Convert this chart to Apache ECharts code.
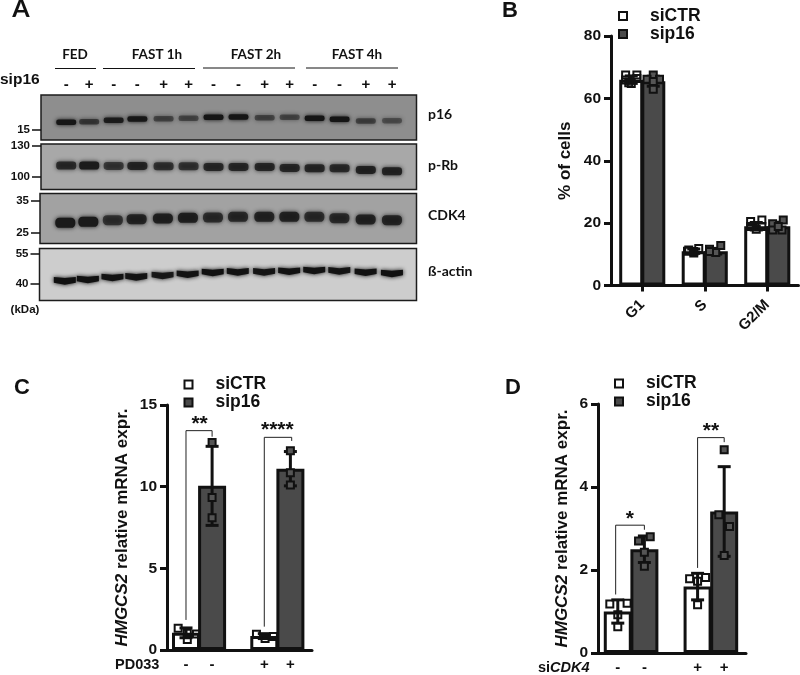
<!DOCTYPE html>
<html>
<head>
<meta charset="utf-8">
<style>html,body{margin:0;padding:0;background:#fff}#c{width:800px;height:675px}</style>
<script src="https://cdn.jsdelivr.net/npm/echarts@6/dist/echarts.min.js"></script>
</head>
<body>
<div id="c"></div>
<script>
// ---- Panel B: cell cycle
const phases = ['G1', 'S', 'G2/M'];
const bCtrMeans = [66, 11, 19];
const bSipMeans = [65.5, 11, 19];
const bCtrSd = [1.2, 0.7, 1.2];
const bSipSd = [1.6, 0.9, 1.3];
const bCtrPoints = [[67.5, 67.5, 65.9, 66.4, 65.0, 64.8], [11.4, 10.9, 11.9, 10.4, 11.0], [20.5, 21.0, 18.9, 18.9, 18.0]];
const bCtrSpread = [[-0.09, 0.09, -0.09, 0.09, -0.04, 0.0], [-0.08, 0.0, 0.08, 0.0, -0.1], [-0.09, 0.09, -0.09, 0.09, 0.0]];
const bSipPoints = [[67.5, 66.1, 66.1, 62.9, 65.4], [11.6, 12.8, 10.6, 10.9], [19.8, 21.0, 17.8, 17.8, 18.9]];
const bSipSpread = [[0.0, -0.1, 0.1, 0.0, 0.0], [-0.1, 0.08, 0.0, -0.1], [-0.09, 0.08, -0.09, 0.06, 0.0]];

// ---- Panel C: HMGCS2 with PD033
const cGroups = [0, 3];
const cSipGroups = [1, 4];
const cTreatLabels = ['-', '-', '+', '+'];
const cTicks = [0, 1, 3, 4];
const cCtrMeans = [1.05, 0.85];
const cSipMeans = [10.05, 11.1];
const cCtrSd = [0.3, 0.15];
const cSipSd = [2.42, 1.05];
const cCtrPoints = [[1.33, 1.02, 0.98, 0.65], [0.96, 0.7, 0.82]];
const cCtrSpread = [[-0.3, 0.05, 0.4, 0.05], [-0.3, 0.03, 0.35]];
const cSipPoints = [[12.7, 9.33, 8.1], [12.2, 10.85, 10.1]];
const cSipSpread = [[0, 0, 0], [0, 0, 0]];
// x1, rise-from, top, x2, drop-to, star x, star y, stars
const cBrackets = [[0, 1.84, 13.43, 1, 13.06, 0.52, 13.82, '**'], [3, 1.43, 13.02, 4.05, 12.8, 3.5, 13.48, '****']];

// ---- Panel D: HMGCS2 with siCDK4
const dTreatLabels = ['-', '-', '+', '+'];
const dCtrMeans = [1.0, 1.6];
const dSipMeans = [2.5, 3.41];
const dCtrSd = [0.28, 0.32];
const dSipSd = [0.32, 1.08];
const dCtrPoints = [[1.18, 1.2, 0.92, 0.63], [1.79, 1.82, 1.73, 1.16]];
const dCtrSpread = [[-0.3, 0.35, 0, 0], [-0.3, 0.3, 0, 0]];
const dSipPoints = [[2.7, 2.8, 2.43, 2.09], [4.9, 3.33, 3.05, 2.35]];
const dSipSpread = [[-0.22, 0.22, 0, 0], [0, -0.2, 0.2, 0]];
const dBrackets = [[-0.08, 1.41, 3.08, 1, 2.97, 0.45, 3.22, '*'], [3, 2.05, 5.19, 4, 5.08, 3.5, 5.34, '**']];

// ---- Panel A: western blot lanes
const lanes = [0, 0.92, 1.9, 2.85, 3.9, 4.9, 5.9, 6.9, 7.95, 8.95, 9.95, 10.95, 12, 13.05];
const laneSigns = ['-', '+', '-', '-', '+', '+', '-', '-', '+', '+', '-', '-', '+', '+'];
const p16Migration = [60.7, 59.3, 56.3, 53.3, 52.6, 51.9, 49.6, 48.9, 50.4, 49.6, 51.9, 54.1, 57.8, 57.0];
const p16Signal = [0.98, 0.6, 0.88, 0.95, 0.5, 0.48, 1, 1, 0.5, 0.48, 1, 1, 0.52, 0.42];
const pRbMigration = [47.4, 47.4, 48.2, 48.2, 48.9, 48.9, 50.4, 50.4, 50.4, 52.6, 53.3, 53.3, 56.9, 59.9];
const pRbSignal = [0.8, 0.98, 0.68, 0.88, 0.75, 0.72, 0.85, 0.85, 0.85, 0.85, 0.85, 0.82, 0.9, 0.9];
const cdk4Migration = [58.7, 56.7, 53.3, 51.3, 50, 48.7, 48, 46.7, 46.7, 46.7, 46.7, 49.3, 52, 53.3];
const cdk4Signal = [1, 1, 0.7, 0.85, 0.9, 0.9, 0.75, 0.8, 0.85, 0.88, 0.75, 0.78, 0.88, 0.85];
const actinMigration = [61.8, 59.2, 55.4, 54.1, 51.6, 49, 45.9, 44.6, 44.6, 43.3, 42, 42.7, 45.2, 47.8];
const actinSignal = [1, 1, 0.98, 0.95, 0.9, 0.98, 1, 0.98, 0.95, 0.98, 0.98, 0.95, 0.98, 1];
const p16Ticks = [77]; const p16Mw = ['15'];
const pRbTicks = [4.4, 73]; const pRbMw = ['130', '100'];
const cdk4Ticks = [15.3, 78]; const cdk4Mw = ['35', '25'];
const actinTicks = [9.6, 68.2]; const actinMw = ['55', '40'];
const timeGroups = ['FED', 'FAST 1h', 'FAST 2h', 'FAST 4h'];

const INK = '#111';
const DARK = '#4a4a4a';
const ARIAL = '"Liberation Sans", Arial, sans-serif';
const LATO = 'Lato, "Open Sans", sans-serif';

const chart = echarts.init(document.getElementById('c'), null, { renderer: 'canvas' });

function errorItem(params, api) {
  const x = api.value(0);
  const lo = api.coord([x, api.value(1)]);
  const hi = api.coord([x, api.value(2)]);
  const s = { stroke: INK, lineWidth: 3, fill: null };
  const cap = 6.5;
  return { type: 'group', children: [
    { type: 'line', shape: { x1: lo[0], y1: lo[1], x2: hi[0], y2: hi[1] }, style: s },
    { type: 'line', shape: { x1: lo[0] - cap, y1: lo[1], x2: lo[0] + cap, y2: lo[1] }, style: s },
    { type: 'line', shape: { x1: hi[0] - cap, y1: hi[1], x2: hi[0] + cap, y2: hi[1] }, style: s }
  ] };
}
function errors(xs, means, sds, xi, yi) {
  return { type: 'custom', name: 'sd', xAxisIndex: xi, yAxisIndex: yi, clip: false, z: 3, silent: true,
    encode: { x: 0, y: [1, 2] }, renderItem: errorItem,
    data: xs.map((x, i) => [x, means[i] - sds[i], means[i] + sds[i]]) };
}
function points(name, xs, vals, spread, xi, yi) {
  const data = [];
  vals.forEach((g, i) => g.forEach((v, j) => data.push([xs[i] + spread[i][j], v])));
  return { type: 'scatter', name, xAxisIndex: xi, yAxisIndex: yi, data, symbol: 'rect', symbolSize: 7, clip: false, z: 4, silent: true,
    itemStyle: { color: name === 'siCTR' ? 'rgba(255,255,255,0)' : '#555', borderColor: INK, borderWidth: 2, opacity: 1 } };
}
function bars(name, xs, means, xi, yi) {
  return { type: 'bar', name, xAxisIndex: xi, yAxisIndex: yi, barWidth: 28, barGap: '-100%', z: 2, silent: true,
    data: xs.map((x, i) => [x, means[i]]),
    itemStyle: { color: name === 'siCTR' ? '#fff' : DARK, borderColor: INK, borderWidth: 3 } };
}
function brackets(list, xi, yi) {
  return { type: 'custom', name: 'sig', xAxisIndex: xi, yAxisIndex: yi, clip: false, z: 5, silent: true,
    encode: { x: 0, y: 2 },
    renderItem(params, api) {
      const b = list[params.dataIndex];
      const a = api.coord([b[0], b[1]]), t1 = api.coord([b[0], b[2]]), t2 = api.coord([b[3], b[2]]), e = api.coord([b[3], b[4]]), st = api.coord([b[5], b[6]]);
      return { type: 'group', children: [
        { type: 'polyline', shape: { points: [a, t1, t2, e] }, style: { stroke: '#222', lineWidth: 1, fill: null } },
        { type: 'text', style: { x: st[0], y: st[1], text: b[7], fill: INK, font: 'bold 21px ' + ARIAL, align: 'center', verticalAlign: 'middle' } }
      ] };
    },
    data: list.map(b => [b[0], b[1], b[2]]) };
}
function yAxisBase(gi, max, interval, name, nameGap) {
  return { type: 'value', gridIndex: gi, min: 0, max, interval,
    name, nameLocation: 'middle', nameGap, nameMoveOverlap: false,
    nameTextStyle: { fontFamily: ARIAL, fontSize: 17, fontWeight: 'bold', color: INK,
      rich: { i: { fontFamily: ARIAL, fontSize: 17, fontWeight: 'bold', fontStyle: 'italic', color: INK }, n: { fontFamily: ARIAL, fontSize: 17, fontWeight: 'bold', color: INK } } },
    axisLine: { show: true, onZero: false, lineStyle: { color: INK, width: 3 } },
    axisTick: { show: true, length: 7, lineStyle: { color: INK, width: 3 } },
    axisLabel: { fontFamily: ARIAL, fontSize: 15.5, fontWeight: 'bold', color: INK, margin: 10 },
    splitLine: { show: false } };
}
function treatedX(gi, min, max, labels) {
  return { type: 'value', gridIndex: gi, min, max,
    axisLine: { show: true, onZero: false, lineStyle: { color: INK, width: 3 } },
    axisTick: { show: false }, splitLine: { show: false },
    axisLabel: { customValues: cTicks, fontFamily: ARIAL, fontSize: 15, fontWeight: 'bold', color: INK, margin: 7,
      formatter: v => labels[cTicks.indexOf(v)] } };
}
function legend(left, top, gap) {
  return { data: ['siCTR', 'sip16'], orient: 'vertical', left, top, itemWidth: 8, itemHeight: 8, itemGap: gap, icon: 'rect', selectedMode: false,
    textStyle: { fontFamily: ARIAL, fontSize: 17.5, fontWeight: 'bold', color: INK, padding: [0, 0, 0, 18] } };
}

// ---- blot panels
const blotGrids = [
  { left: 41, top: 95, width: 375.5, height: 45, backgroundColor: '#8e8e8e' },
  { left: 41, top: 144, width: 375.5, height: 45.5, backgroundColor: '#a8a8a8' },
  { left: 40, top: 193.5, width: 376.5, height: 50, backgroundColor: '#a2a2a2' },
  { left: 39.5, top: 248.5, width: 377, height: 52, backgroundColor: '#cdcdcd' }
].map(g => Object.assign(g, { show: true, borderColor: '#1c1c1c', borderWidth: 1.5 }));

function blotX(gi, withSigns) {
  return { type: 'value', gridIndex: gi, position: 'top', min: -1.01, max: 14.03,
    axisLine: { show: false }, axisTick: { show: false }, splitLine: { show: false },
    axisLabel: withSigns ? { show: true, customValues: lanes, fontFamily: ARIAL, fontSize: 15, fontWeight: 'bold', color: INK, margin: 3,
      formatter: v => laneSigns[lanes.indexOf(v)] } : { show: false } };
}
function blotY(gi, ticks, mw) {
  return { type: 'value', gridIndex: gi, inverse: true, min: 0, max: 100,
    axisLine: { show: false, onZero: false }, splitLine: { show: false },
    axisTick: { show: true, length: 9, customValues: ticks, lineStyle: { color: '#111', width: 1.5 } },
    axisLabel: { customValues: ticks, fontFamily: ARIAL, fontSize: 11.5, fontWeight: 'bold', color: INK, margin: 11,
      formatter: v => mw[ticks.indexOf(v)] } };
}
function blotBands(gi, migration, signal, w, h, color, curved) {
  return { type: 'custom', name: 'blot' + gi, xAxisIndex: 4 + gi, yAxisIndex: 3 + gi, silent: true, z: 2,
    encode: { x: 0, y: 1 },
    renderItem(params, api) {
      const c = api.coord([api.value(0), api.value(1)]);
      const a = api.value(2);
      const style = { fill: color, opacity: a, shadowBlur: 4, shadowColor: color };
      if (curved) {
        const pts = [[-w / 2, -h * 0.45], [0, -h * 0.32], [w / 2, -h * 0.45], [w / 2, h * 0.25], [0, h * 0.5], [-w / 2, h * 0.25]]
          .map(p => [c[0] + p[0], c[1] + p[1]]);
        return { type: 'polygon', shape: { points: pts }, style };
      }
      return { type: 'rect', shape: { x: c[0] - w / 2, y: c[1] - h / 2, width: w, height: h, r: h / 2.4 }, style };
    },
    data: lanes.map((x, i) => [x, migration[i], signal[i]]) };
}

const gText = (text, x, y, font, align) => ({ type: 'text', z: 10, silent: true, style: { x, y, text, font, fill: INK, align: align || 'center', verticalAlign: 'middle' } });
const gLine = (x1, x2, y) => ({ type: 'line', z: 10, silent: true, shape: { x1, y1: y, x2, y2: y }, style: { stroke: '#111', lineWidth: 1 } });
const HEAD = '700 13.5px ' + LATO;
const ROW = '700 14px ' + LATO;

const option = {
  animation: false,
  backgroundColor: '#fff',
  grid: [
    { left: 611, top: 36, width: 187.5, height: 249.5 },
    { left: 167, top: 405, width: 145, height: 245 },
    { left: 598, top: 404, width: 148, height: 249 }
  ].concat(blotGrids),
  legend: [legend(613, 2, 0), legend(178.5, 370.5, 0), legend(609, 369.5, 0)],
  xAxis: [
    { type: 'category', gridIndex: 0, data: phases,
      axisLine: { onZero: false, lineStyle: { color: INK, width: 3 } },
      axisTick: { show: true, alignWithLabel: true, length: 6, lineStyle: { color: INK, width: 3 } },
      axisLabel: { rotate: 45, fontFamily: ARIAL, fontSize: 15, fontWeight: 'bold', color: INK, margin: 17 } },
    { type: 'value', gridIndex: 0, min: -0.5, max: 2.5, show: false },
    treatedX(1, -0.728, 4.828, cTreatLabels),
    treatedX(2, -0.744, 4.82, dTreatLabels),
    blotX(3, true), blotX(4, false), blotX(5, false), blotX(6, false)
  ],
  yAxis: [
    yAxisBase(0, 80, 20, '% of cells', 37),
    yAxisBase(1, 15, 5, '{i|HMGCS2}{n| relative mRNA expr.}', 36),
    yAxisBase(2, 6, 2, '{i|HMGCS2}{n| relative mRNA expr.}', 27),
    blotY(3, p16Ticks, p16Mw), blotY(4, pRbTicks, pRbMw), blotY(5, cdk4Ticks, cdk4Mw), blotY(6, actinTicks, actinMw)
  ],
  series: [
    { type: 'bar', name: 'siCTR', xAxisIndex: 0, yAxisIndex: 0, data: bCtrMeans, barWidth: 24, barGap: '-8%', silent: true,
      itemStyle: { color: '#fff', borderColor: INK, borderWidth: 3 } },
    { type: 'bar', name: 'sip16', xAxisIndex: 0, yAxisIndex: 0, data: bSipMeans, barWidth: 24, barGap: '-8%', silent: true,
      itemStyle: { color: DARK, borderColor: INK, borderWidth: 3 } },
    errors([-0.176, 0.824, 1.824], bCtrMeans, bCtrSd, 1, 0),
    errors([0.176, 1.176, 2.176], bSipMeans, bSipSd, 1, 0),
    points('siCTR', [-0.176, 0.824, 1.824], bCtrPoints, bCtrSpread, 1, 0),
    points('sip16', [0.176, 1.176, 2.176], bSipPoints, bSipSpread, 1, 0),

    bars('siCTR', cGroups, cCtrMeans, 2, 1),
    bars('sip16', cSipGroups, cSipMeans, 2, 1),
    errors(cGroups, cCtrMeans, cCtrSd, 2, 1),
    errors(cSipGroups, cSipMeans, cSipSd, 2, 1),
    points('siCTR', cGroups, cCtrPoints, cCtrSpread, 2, 1),
    points('sip16', cSipGroups, cSipPoints, cSipSpread, 2, 1),
    brackets(cBrackets, 2, 1),

    bars('siCTR', cGroups, dCtrMeans, 3, 2),
    bars('sip16', cSipGroups, dSipMeans, 3, 2),
    errors(cGroups, dCtrMeans, dCtrSd, 3, 2),
    errors(cSipGroups, dSipMeans, dSipSd, 3, 2),
    points('siCTR', cGroups, dCtrPoints, dCtrSpread, 3, 2),
    points('sip16', cSipGroups, dSipPoints, dSipSpread, 3, 2),
    brackets(dBrackets, 3, 2),

    blotBands(0, p16Migration, p16Signal, 20, 5.5, '#151515'),
    blotBands(1, pRbMigration, pRbSignal, 20, 8, '#1c1c1c'),
    blotBands(2, cdk4Migration, cdk4Signal, 20, 10, '#1a1a1a'),
    blotBands(3, actinMigration, actinSignal, 22, 8, '#111', true)
  ],
  graphic: [
    gText('A', 21, 9, '700 25px ' + LATO),
    gText('B', 510, 11, 'bold 22px ' + ARIAL),
    gText('C', 22, 388, 'bold 22px ' + ARIAL),
    gText('D', 513, 388, 'bold 22px ' + ARIAL),
    gText(timeGroups[0], 75, 55, HEAD), gText(timeGroups[1], 157, 55, HEAD),
    gText(timeGroups[2], 256, 55, HEAD), gText(timeGroups[3], 357, 54.5, HEAD),
    gLine(55, 96, 68.5), gLine(103, 195, 68.5), gLine(203, 295, 68), gLine(306, 398, 68),
    gText('sip16', 0, 80, 'bold 15.5px ' + ARIAL, 'left'),
    gText('p16', 428, 114, ROW, 'left'), gText('p-Rb', 428, 165, ROW, 'left'),
    gText('CDK4', 428, 215, ROW, 'left'), gText('ß-actin', 428, 271, ROW, 'left'),
    gText('(kDa)', 25, 310, 'bold 11.5px ' + ARIAL),
    gText('PD033', 115, 665, 'bold 14.5px ' + ARIAL, 'left'),
    { type: 'text', z: 10, silent: true, style: { x: 538, y: 668, fill: INK, align: 'left', verticalAlign: 'middle', text: '{a|si}{b|CDK4}',
      rich: { a: { font: 'bold 14.5px ' + ARIAL, fill: INK }, b: { font: 'italic bold 14.5px ' + ARIAL, fill: INK } } } }
  ]
};
chart.setOption(option);
</script>
</body>
</html>
